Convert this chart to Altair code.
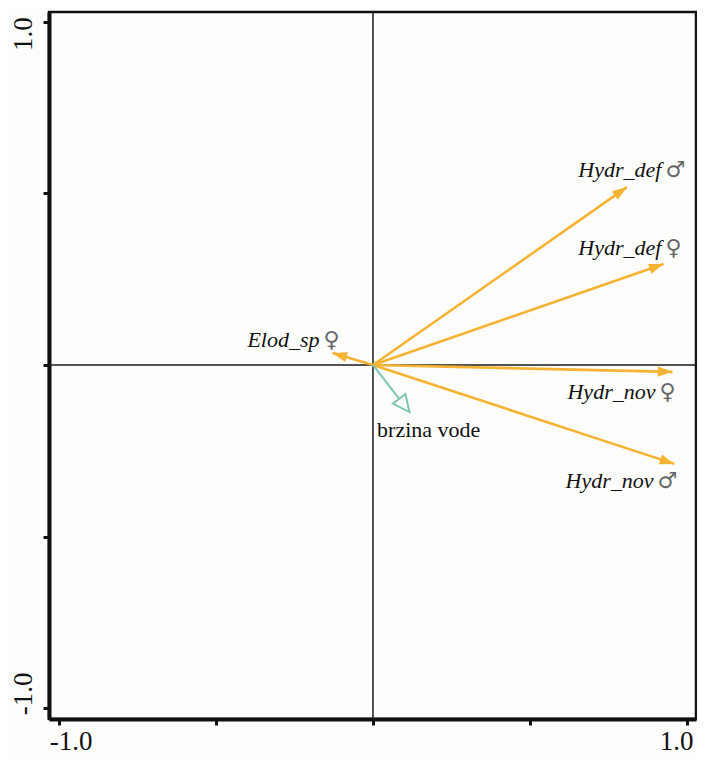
import altair as alt
import pandas as pd

# Vector data (species / environmental variable)
names = ["Hydr_def", "Hydr_def", "Hydr_nov", "Hydr_nov", "Elod_sp"]
symbols = ["♂", "♀", "♀", "♂", "♀"]
tip_x = [0.808, 0.925, 0.953, 0.959, -0.129]
tip_y = [0.518, 0.294, -0.020, -0.288, 0.035]
label_x = [0.918, 0.918, 0.899, 0.893, -0.170]
label_y = [0.547, 0.320, -0.099, -0.358, 0.052]

env_name = ["brzina vode"]
env_x = [0.116]
env_y = [-0.137]
env_label_x = [0.013]
env_label_y = [-0.210]

tick_values = [-1.0, -0.5, 0.0, 0.5, 1.0]

W, H = 647, 707
XD = [-1.031, 1.028]
YD = [-1.031, 1.028]
sx = W / (XD[1] - XD[0])
sy = H / (YD[1] - YD[0])

sp = pd.DataFrame({"name": names, "sym": symbols, "x": tip_x, "y": tip_y,
                   "lx": label_x, "ly": label_y, "x0": 0.0, "y0": 0.0})
env = pd.DataFrame({"name": env_name, "x": env_x, "y": env_y,
                    "lx": env_label_x, "ly": env_label_y, "x0": 0.0, "y0": 0.0})
zero = pd.DataFrame({"v": [0.0]})

angle_expr = f"(atan2(datum.x*{sx}, datum.y*{sy})*180/PI + 360) % 360"

xs = alt.Scale(domain=XD, nice=False, zero=False)
ys = alt.Scale(domain=YD, nice=False, zero=False)

lab_cond_x = {"condition": {"test": "datum.value < 0", "value": 12}, "value": -11}
lab_cond_y = {"condition": {"test": "datum.value < 0", "value": -15}, "value": 12}

xaxis = alt.Axis(values=tick_values, title=None, grid=False,
                 labelExpr="datum.value == 1 ? '1.0' : datum.value == -1 ? '-1.0' : ''",
                 labelFont="Liberation Serif", labelFontSize=27, labelColor="#111",
                 labelPadding=3, labelOffset=lab_cond_x,
                 domainColor="#111", domainWidth=4, tickColor="#111",
                 tickWidth=3, tickSize=6)
yaxis = alt.Axis(values=tick_values, title=None, grid=False,
                 labelExpr="datum.value == 1 ? '1.0' : datum.value == -1 ? '-1.0' : ''",
                 labelFont="Liberation Serif", labelFontSize=27, labelColor="#111",
                 labelAngle=270, labelAlign="center", labelBaseline="bottom",
                 labelPadding=6, labelOffset=lab_cond_y,
                 domainColor="#111", domainWidth=4, tickColor="#111",
                 tickWidth=3, tickSize=6)

vline = alt.Chart(zero).mark_rule(color="#1a1a1a", strokeWidth=1.5).encode(
    x=alt.X("v:Q", scale=xs, axis=xaxis))
hline = alt.Chart(zero).mark_rule(color="#1a1a1a", strokeWidth=1.5).encode(
    y=alt.Y("v:Q", scale=ys, axis=yaxis))

orange = "#F6B333"
teal = "#7DC5B2"

sp_lines = alt.Chart(sp).mark_rule(color=orange, strokeWidth=2.6).encode(
    x=alt.X("x0:Q", scale=xs), y=alt.Y("y0:Q", scale=ys),
    x2="x:Q", y2="y:Q")
sp_heads = alt.Chart(sp).transform_calculate(ang=angle_expr).mark_point(
    shape="M0,0L-0.7,2L0.7,2Z", filled=True, color=orange, opacity=1,
    size=215, strokeWidth=0).encode(
    x=alt.X("x:Q", scale=xs), y=alt.Y("y:Q", scale=ys),
    angle=alt.Angle("ang:Q", scale=None))

env_line = alt.Chart(env).mark_rule(color=teal, strokeWidth=2).encode(
    x=alt.X("x0:Q", scale=xs), y=alt.Y("y0:Q", scale=ys),
    x2="x:Q", y2="y:Q")
env_head = alt.Chart(env).transform_calculate(ang=angle_expr).mark_point(
    shape="M0,0L-0.95,2L0.95,2Z", filled=True, fill="#fdfdfc", stroke=teal,
    strokeWidth=2, opacity=1, size=280).encode(
    x=alt.X("x:Q", scale=xs), y=alt.Y("y:Q", scale=ys),
    angle=alt.Angle("ang:Q", scale=None))

sp_names = alt.Chart(sp).mark_text(
    font="Liberation Serif", fontSize=22, fontStyle="italic", align="right",
    baseline="alphabetic", color="#111").encode(
    x=alt.X("lx:Q", scale=xs), y=alt.Y("ly:Q", scale=ys), text="name:N")
sp_syms = alt.Chart(sp).mark_text(
    font="DejaVu Sans", fontSize=22, align="left", baseline="alphabetic",
    color="#666", dx=4).encode(
    x=alt.X("lx:Q", scale=xs), y=alt.Y("ly:Q", scale=ys), text="sym:N")
env_text = alt.Chart(env).mark_text(
    font="Liberation Serif", fontSize=22, align="left", baseline="alphabetic",
    color="#111").encode(
    x=alt.X("lx:Q", scale=xs), y=alt.Y("ly:Q", scale=ys), text="name:N")

chart = alt.layer(vline, hline, sp_lines, env_line, sp_heads, env_head,
                  sp_names, sp_syms, env_text).properties(
    width=W, height=H,
    autosize=alt.AutoSizeParams(type="none"),
    padding={"left": 41, "top": 4, "right": 1, "bottom": 35},
    background="#fdfdfc",
).configure_view(stroke="#111", strokeWidth=2.5)

chart.save("out.html", embed_options={"renderer": "svg", "actions": False})
